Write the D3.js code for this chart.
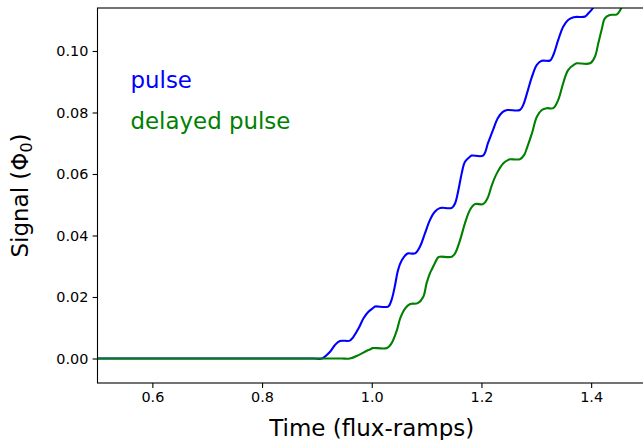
<!DOCTYPE html>
<html>
<head>
<meta charset="utf-8">
<script src="https://cdn.jsdelivr.net/npm/d3@7"></script>
<style>
  html, body { margin: 0; padding: 0; background: #fff; }
  svg { display: block; font-family: "DejaVu Sans", sans-serif; }
</style>
</head>
<body>
<div id="chart"></div>
<script>
// values
const pulseTime = [0.5, 0.7, 0.85, 0.895, 0.909, 0.924, 0.933, 0.942, 0.960, 0.966, 0.976, 0.985, 0.994, 1.003, 1.006, 1.030, 1.036, 1.042, 1.048, 1.055, 1.064, 1.067, 1.079, 1.088, 1.097, 1.106, 1.115, 1.124, 1.128, 1.146, 1.152, 1.158, 1.164, 1.170, 1.179, 1.182, 1.203, 1.212, 1.221, 1.230, 1.239, 1.247, 1.270, 1.276, 1.283, 1.292, 1.301, 1.310, 1.325, 1.331, 1.340, 1.349, 1.358, 1.368, 1.389, 1.395, 1.403, 1.413, 1.420];
const pulseSignal = [0, 0, 0, 0, 0, 0.0022, 0.0044, 0.0057, 0.0058, 0.0069, 0.0098, 0.0131, 0.0152, 0.0165, 0.0169, 0.0169, 0.0190, 0.0234, 0.0288, 0.0320, 0.0340, 0.0342, 0.0342, 0.0364, 0.0407, 0.0450, 0.0477, 0.0489, 0.0490, 0.0490, 0.0505, 0.0548, 0.0602, 0.0640, 0.0656, 0.0660, 0.0660, 0.0701, 0.0743, 0.0782, 0.0802, 0.0808, 0.0808, 0.0824, 0.0862, 0.0916, 0.0955, 0.0968, 0.0969, 0.0987, 0.1036, 0.1079, 0.1101, 0.1110, 0.1112, 0.1123, 0.1139, 0.1182, 0.1247];

const delayedTime = [0.5, 0.7, 0.9, 0.945, 0.960, 0.976, 0.991, 1.000, 1.001, 1.028, 1.036, 1.046, 1.052, 1.061, 1.070, 1.084, 1.094, 1.100, 1.106, 1.109, 1.115, 1.121, 1.125, 1.146, 1.152, 1.161, 1.170, 1.179, 1.188, 1.203, 1.211, 1.219, 1.228, 1.240, 1.249, 1.252, 1.270, 1.278, 1.283, 1.292, 1.301, 1.310, 1.319, 1.331, 1.340, 1.349, 1.358, 1.371, 1.374, 1.398, 1.407, 1.413, 1.419, 1.425, 1.434, 1.447, 1.453, 1.456, 1.462];
const delayedSignal = [0, 0, 0, 0, 0, 0.0011, 0.0025, 0.0032, 0.0034, 0.0034, 0.0049, 0.0093, 0.0131, 0.0163, 0.0177, 0.0180, 0.0201, 0.0245, 0.0277, 0.0288, 0.0310, 0.0329, 0.0331, 0.0331, 0.0342, 0.0385, 0.0440, 0.0483, 0.0502, 0.0502, 0.0521, 0.0564, 0.0602, 0.0635, 0.0646, 0.0648, 0.0648, 0.0662, 0.0685, 0.0732, 0.0786, 0.0808, 0.0814, 0.0814, 0.0841, 0.0895, 0.0938, 0.0958, 0.0960, 0.0960, 0.0982, 0.1025, 0.1068, 0.1106, 0.1117, 0.1119, 0.1133, 0.1144, 0.1182];

const xTicks = [0.6, 0.8, 1.0, 1.2, 1.4];
const yTicks = [0.00, 0.02, 0.04, 0.06, 0.08, 0.10];
const seriesNames = ['pulse', 'delayed pulse'];
const seriesColors = ['#0000ff', '#008000'];

const width = 643, height = 440;
const margin = { left: 97.5, top: 8 };
const plotW = 548.5, plotH = 375;

const svg = d3.select('#chart').append('svg')
  .attr('width', width)
  .attr('height', height);

const x = d3.scaleLinear().domain([0.5, 1.5]).range([margin.left, margin.left + plotW]);
const y = d3.scaleLinear().domain([-0.00797, 0.11398]).range([margin.top + plotH, margin.top]);

svg.append('clipPath').attr('id', 'plot-clip')
  .append('rect')
  .attr('x', margin.left).attr('y', margin.top)
  .attr('width', plotW).attr('height', plotH);

const line = d3.line()
  .x(d => x(d[0]))
  .y(d => y(d[1]))
  .curve(d3.curveCatmullRom.alpha(0.5));

const series = [
  d3.zip(pulseTime, pulseSignal),
  d3.zip(delayedTime, delayedSignal)
];

svg.append('g').attr('clip-path', 'url(#plot-clip)')
  .selectAll('path')
  .data(series)
  .join('path')
  .attr('fill', 'none')
  .attr('stroke', (d, i) => seriesColors[i])
  .attr('stroke-width', 2.1)
  .attr('stroke-linejoin', 'round')
  .attr('d', line);

// axes
const xAxis = d3.axisBottom(x).tickValues(xTicks).tickFormat(d3.format('.1f'))
  .tickSize(4.9).tickPadding(4.2).tickSizeOuter(0);
const yAxis = d3.axisLeft(y).tickValues(yTicks).tickFormat(d3.format('.2f'))
  .tickSize(4.9).tickPadding(4.2).tickSizeOuter(0);

const gx = svg.append('g')
  .attr('transform', `translate(0,${margin.top + plotH})`)
  .call(xAxis);
const gy = svg.append('g')
  .attr('transform', `translate(${margin.left},0)`)
  .call(yAxis);

[gx, gy].forEach(g => {
  g.select('.domain').remove();
  g.selectAll('.tick line').attr('stroke', '#000').attr('stroke-width', 1.1);
  g.selectAll('.tick text')
    .attr('fill', '#000')
    .style('font-family', '"DejaVu Sans", sans-serif')
    .style('font-size', '14.4px');
});

// frame
svg.append('rect')
  .attr('x', margin.left).attr('y', margin.top)
  .attr('width', plotW).attr('height', plotH)
  .attr('fill', 'none')
  .attr('stroke', '#000')
  .attr('stroke-width', 1.1);

// labels
svg.append('text')
  .attr('x', margin.left + plotW / 2)
  .attr('y', 436)
  .attr('text-anchor', 'middle')
  .style('font-size', '23px')
  .text('Time (flux-ramps)');

const ylab = svg.append('text')
  .attr('transform', `translate(28,${margin.top + plotH / 2}) rotate(-90)`)
  .attr('text-anchor', 'middle')
  .style('font-size', '23px');
ylab.append('tspan').text('Signal (Φ');
ylab.append('tspan').attr('dy', 4).style('font-size', '16px').text('0');
ylab.append('tspan').attr('dy', -4).text(')');

// in-plot legend text
svg.selectAll('.series-label')
  .data(seriesNames)
  .join('text')
  .attr('class', 'series-label')
  .attr('x', 130.5)
  .attr('y', (d, i) => 88 + i * 40.5)
  .attr('fill', (d, i) => seriesColors[i])
  .style('font-size', '22.9px')
  .text(d => d);
</script>
</body>
</html>
